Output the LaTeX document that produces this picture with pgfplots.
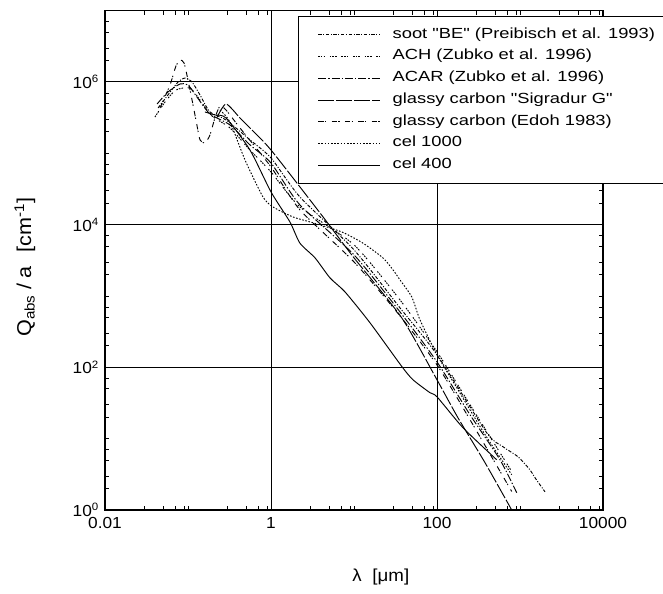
\documentclass[border=0pt]{standalone}
\usepackage{fontspec}
\setmainfont{Liberation Sans}[FakeStretch=1.08]
\newfontfamily\legfont{Liberation Sans}[FakeStretch=1.25]
\usepackage{pgfplots}
\pgfplotsset{compat=1.18}

\begin{document}
\begin{tikzpicture}
\begin{axis}[
  xmode=log, ymode=log,
  scale only axis, width=373.5pt, height=374.6pt,
  xmin=0.01, xmax=10000, ymin=1, ymax=1e7,
  xtick={0.01,1,100,10000}, xticklabels={0.01,1,100,10000},
  ytick={1,100,10000,1000000},
  yticklabels={10\textsuperscript{0},10\textsuperscript{2},10\textsuperscript{4},10\textsuperscript{6}},
  minor xtick={0.03,0.05,0.07,0.09,0.1,0.3,0.5,0.7,0.9,3,5,7,9,10,30,50,70,90,300,500,700,900,1000,3000,5000,7000,9000},
  minor ytick={2,3,5,7,10,20,30,50,70,200,300,500,700,1000,2000,3000,5000,7000,20000,30000,50000,70000,100000,200000,300000,500000,700000,2000000,3000000,5000000,7000000},
  tick align=inside, major tick length=0pt, minor tick length=3pt,
  grid=major, major grid style={black, line width=0.6pt},
  axis line style={line width=1pt},
  tick style={black, line width=0.5pt},
  ticklabel style={font=\fontsize{12}{14}\selectfont},
  xticklabel style={yshift=-2pt},
  yticklabel style={xshift=-1pt},
  xlabel={λ\hspace{8pt}[μm]},
  ylabel={Q\textsubscript{abs}\hspace{4pt}/\hspace{4pt}a\hspace{10pt}[cm\textsuperscript{-1}]},
  xlabel style={font=\fontsize{13}{15}\selectfont, at={(axis description cs:0.554,-0.134)}, anchor=center},
  ylabel style={font=\fontsize{15}{17}\selectfont, at={(axis description cs:-0.161,0.486)}, anchor=center},
  legend style={at={(axis description cs:0.3876,0.9896)}, anchor=north west, draw=black, line width=0.6pt, fill=white,
    font=\legfont\fontsize{11}{12}\selectfont, row sep=4.3pt, inner xsep=6pt, inner ysep=8pt,
    nodes={text height=7.5pt, text depth=2.5pt, inner ysep=1pt}},
  legend cell align=left,
  legend image code/.code={\path (0pt,0pt) (62pt,0pt); \draw[#1, line width=0.6pt] (8.5pt,0pt) -- (55pt,0pt);},
  every axis plot/.append style={black, line width=0.7pt, smooth, tension=0.4},
]
\addplot[dash pattern=on 2.5pt off 1.2pt on 0.8pt off 1.2pt] coordinates {
(0.0436,4.31e5) (0.0574,6.56e5) (0.0759,9.97e5) (0.092,1.13e6) (0.1117,9.97e5) (0.1395,6.56e5) (0.184,3.79e5) (0.287,2.93e5) (0.558,1.54e5) (1.0,8.6e4) (2.23,2.44e4) (10,4.43e3) (35.8,681) (100,150) (397,12.1) (624,7.7) (946,5.58) (1319,3.66) (1517,2.83) (2000,1.80)};
\addlegendentry{soot "BE" (Preibisch et al. 1993)}
\addplot[dash pattern=on 1.2pt off 0.8pt on 1.2pt off 0.8pt on 1.2pt off 3.5pt] coordinates {
(0.040,3.22e5) (0.0529,5.23e5) (0.0716,7.7e5) (0.1057,8.2e5) (0.1395,5.57e5) (0.1945,3.33e5) (0.321,2.26e5) (0.558,1.11e5) (1.0,5.47e4) (2.23,1.77e4) (10,5.2e3) (35.8,881) (100,165) (250,29.9) (795,3.47)};
\addlegendentry{ACH (Zubko et al. 1996)}
\addplot[dash pattern=on 6pt off 1.5pt on 1pt off 1.5pt] coordinates {
(0.0424,4.90e5) (0.0574,7.22e5) (0.0802,9.35e5) (0.1,9.05e5) (0.128,6.15e5) (0.184,3.55e5) (0.321,2.49e5) (0.558,1.31e5) (1.0,7.3e4) (2.23,1.89e4) (10,3.77e3) (35.8,598) (100,119) (250,21.6) (574,5.06) (912,1.75)};
\addlegendentry{ACAR (Zubko et al. 1996)}
\addplot[dash pattern=on 12pt off 1.5pt] coordinates {
(0.222,3.12e5) (0.287,4.90e5) (0.423,3.12e5) (0.558,2.26e5) (1.0,1.11e5) (3.89,1.46e4) (10,3.42e3) (37.6,493) (100,66.8) (179,19.6) (379,4.6) (795,1.0)};
\addlegendentry{glassy carbon "Sigradur G"}
\addplot[dash pattern=on 4pt off 1pt on 1pt off 4pt] coordinates {
(0.046,4.31e5) (0.0607,9.05e5) (0.0716,1.67e6) (0.0802,2.03e6) (0.0896,1.84e6) (0.1,1.06e6) (0.115,4.75e5) (0.128,2.49e5) (0.1395,1.54e5) (0.16,1.39e5) (0.184,1.80e5) (0.211,3.12e5) (0.243,4.59e5) (0.287,4.04e5) (0.423,2.26e5) (1.0,6.43e4) (2.23,1.61e4) (10,3.0e3) (35.8,526) (100,108) (250,18.4) (795,1.82)};
\addlegendentry{glassy carbon (Edoh 1983)}
\addplot[dash pattern=on 1.2pt off 1.2pt] coordinates {
(0.243,4.04e5) (0.321,2.74e5) (0.486,8.06e4) (0.80,2.44e4) (1.057,1.77e4) (1.84,1.28e4) (3.21,1.06e4) (7.11,7.9e3) (12.8,5.5e3) (22.3,3.42e3) (29.5,2.32e3) (35.8,1.68e3) (49.6,970) (62.4,462) (100,150) (179,48.4) (379,11.4) (795,3.12)};
\addlegendentry{cel 1000}
\addplot[solid] coordinates {
(0.16,3.79e5) (0.211,3.44e5) (0.287,3.12e5) (0.558,1.11e5) (1.0,2.87e4) (1.69,1.09e4) (2.23,5.5e3) (3.39,3.42e3) (5.14,1.79e3) (7.79,1.14e3) (15.6,420) (37.6,103) (51.4,66.8) (82.4,44) (100,38.6) (206,14.2) (524,5.06)};
\addlegendentry{cel 400}
\end{axis}
\pgfresetboundingbox
\path[use as bounding box] (-78.75pt,-62.25pt) rectangle (418.5pt,382.5pt);
\end{tikzpicture}
\end{document}
